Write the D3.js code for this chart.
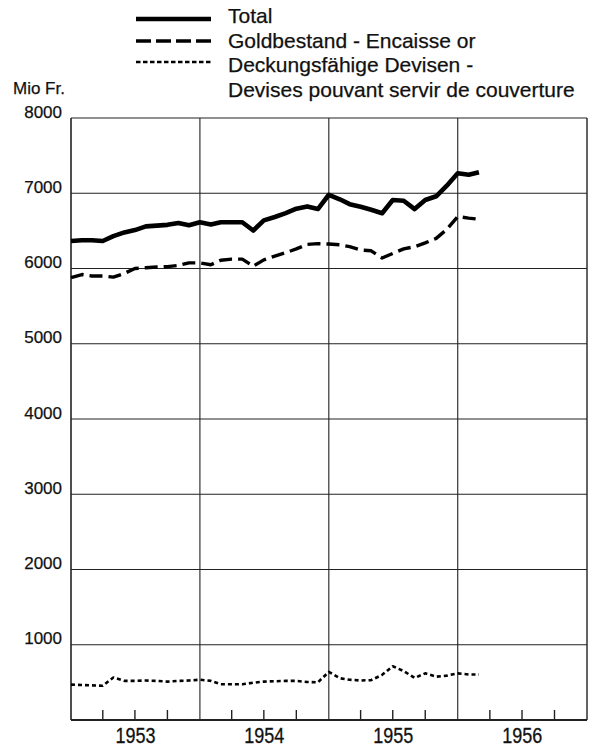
<!DOCTYPE html>
<html><head><meta charset="utf-8">
<script src="https://cdn.jsdelivr.net/npm/d3@7"></script>
<style>body{margin:0;background:#fff}svg{display:block}text{font-family:"Liberation Sans",Arial,sans-serif;fill:#111;stroke:#111;stroke-width:0.25px}</style>
</head><body>
<script>
// Month-end observations, Dec 1952 .. Feb 1956 (Mio Fr.)
const startMonth = "1953-01-01";
const total = [6365,6375,6375,6365,6430,6480,6510,6560,6570,6580,6605,6575,6615,6585,6615,6615,6615,6505,6640,6685,6735,6795,6825,6790,6980,6920,6855,6820,6780,6735,6910,6900,6790,6910,6960,7100,7265,7245,7280];
const gold  = [5880,5920,5900,5900,5885,5935,6000,6010,6020,6025,6040,6075,6075,6050,6110,6125,6125,6030,6115,6165,6210,6260,6320,6330,6325,6315,6290,6245,6235,6140,6200,6260,6290,6340,6400,6520,6690,6670,6655];
const devisen = [470,465,460,455,565,520,520,525,520,510,520,525,535,520,475,475,475,495,510,515,520,520,505,500,640,555,535,525,530,600,715,650,560,620,575,590,620,605,605];
const yTicks = [1000,2000,3000,4000,5000,6000,7000,8000];
const years = ["1953","1954","1955","1956"];
const legendLabels = [["Total"],["Goldbestand - Encaisse  or"],["Deckungsfähige Devisen  -","Devises pouvant servir de couverture"]];

const W=595,H=746, L=71,R=587,T=118,B=720;
const svg=d3.select("body").append("svg").attr("width",W).attr("height",H);
const parse=d3.timeParse("%Y-%m-%d");
const t0=parse(startMonth);
const dates=total.map((d,i)=>d3.timeMonth.offset(t0,i));
const x=d3.scaleTime().domain([parse("1953-01-01"),parse("1957-01-01")]).range([L,R]);
const y=d3.scaleLinear().domain([0,8000]).range([B,T]);

// grid
const g=svg.append("g").attr("stroke","#222").attr("stroke-width",1.1).attr("fill","none");
yTicks.forEach(v=>g.append("line").attr("x1",L).attr("x2",R).attr("y1",y(v)).attr("y2",y(v)));
years.forEach((yr,i)=>{ if(i>0){const xx=x(parse(yr+"-01-01"));g.append("line").attr("x1",xx).attr("x2",xx).attr("y1",T).attr("y2",B);} });
g.append("line").attr("x1",R).attr("x2",R).attr("y1",T).attr("y2",B).attr("stroke-width",1.4);
g.append("line").attr("x1",L).attr("x2",L).attr("y1",T).attr("y2",B).attr("stroke-width",1.6);
g.append("line").attr("x1",L).attr("x2",R).attr("y1",B).attr("y2",B).attr("stroke-width",1.8);
// quarter ticks
years.forEach(yr=>{[4,7,10].forEach(m=>{const xx=x(parse(yr+"-"+String(m).padStart(2,"0")+"-01"));g.append("line").attr("x1",xx).attr("x2",xx).attr("y1",B).attr("y2",B-10).attr("stroke-width",1.4);});});

// y axis labels
const ya=svg.append("g").attr("transform",`translate(${L},0)`).call(d3.axisLeft(y).tickValues(yTicks).tickSize(0).tickPadding(9).tickFormat(d3.format("d")));
ya.select(".domain").remove();
ya.selectAll("text").attr("font-size",17).attr("dy","-0.05em").style("font-family","'Liberation Sans',Arial,sans-serif");
svg.append("text").attr("x",13).attr("y",94).attr("font-size",17).text("Mio Fr.");

// x labels (slightly tall lettering as in the print)
years.forEach(yr=>{const a=x(parse(yr+"-01-01")),b=x(parse((+yr+1)+"-01-01"));
  svg.append("text").attr("transform",`translate(${(a+b)/2},743) scale(1,1.22)`).attr("text-anchor","middle").attr("font-size",18).text(yr);});

// lines
const line=d3.line().x((d,i)=>x(dates[i])).y(d=>y(d)).curve(d3.curveLinear);
const styles=[{w:4.6,dash:null},{w:3.4,dash:"13,6"},{w:2.6,dash:"4,3"}];
[total,gold,devisen].forEach((s,i)=>{
  svg.append("path").datum(s).attr("d",line).attr("fill","none").attr("stroke","#000")
   .attr("stroke-width",styles[i].w).attr("stroke-dasharray",styles[i].dash).attr("stroke-linejoin","round");
});

// legend
const ly=[19,41,62], ty=[23,48,72];
legendLabels.forEach((lab,i)=>{
  svg.append("line").attr("x1",136).attr("x2",211).attr("y1",ly[i]).attr("y2",ly[i]).attr("stroke","#000")
    .attr("stroke-width",styles[i].w).attr("stroke-dasharray",i==1?"15,5":(i==2?"4.5,2.5":null));
  lab.forEach((t,j)=>svg.append("text").attr("x",228).attr("y",ty[i]+j*24.5).attr("font-size",21).text(t));
});
</script>
</body></html>
